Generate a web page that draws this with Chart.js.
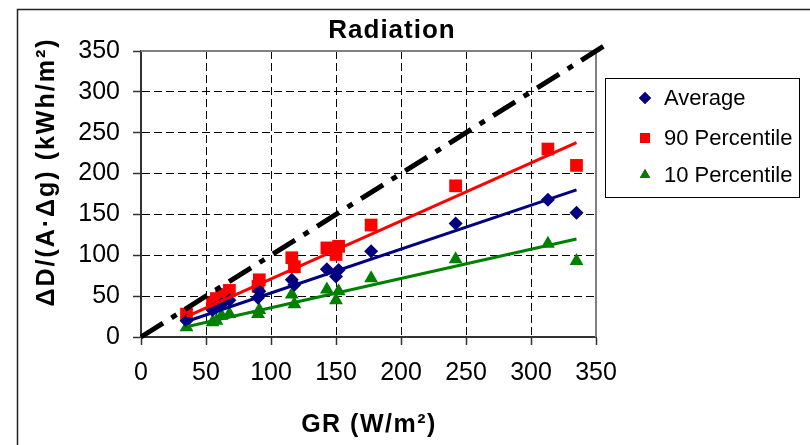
<!DOCTYPE html>
<html>
<head>
<meta charset="utf-8">
<script src="https://cdn.jsdelivr.net/npm/chart.js@4.4.0/dist/chart.umd.min.js"></script>
<style>
  html, body { margin: 0; padding: 0; background: #fff; }
  #wrap { width: 810px; height: 445px; }
</style>
</head>
<body>
<div id="wrap"><canvas id="radiationChart" width="810" height="445"></canvas></div>
<script>
// GR (W/m2) of each measured point
const grValues = [35, 55, 58, 62, 68, 90, 91, 116, 118, 143, 150, 152, 177, 242, 313, 335];
// dD/(A.dg) (kWh/m2)
const averageValues = [20, 33, 36, 40, 45, 48, 56, 70, 64, 83, 74, 82, 105, 139, 168, 152];
const p90Values = [28, 42, 47, 52, 57, 62, 70, 97, 86, 109, 101, 111, 137, 185, 230, 210];
const p10Values = [12, 18, 20, 26, 28, 28, 33, 52, 40, 58, 45, 56, 72, 95, 114, 93];

// trend lines (end points)
const trendX = [35, 335];
const trendAverage = [19, 180];
const trend90 = [25, 238];
const trend10 = [12.5, 120];

// 1:1 line
const oneToOneX = [0, 356];
const oneToOneY = [0, 356];

const tickValues = [0, 50, 100, 150, 200, 250, 300, 350];
const seriesNames = ['Average', '90 Percentile', '10 Percentile'];

const toPoints = (xs, ys) => xs.map((x, i) => ({x: x, y: ys[i]}));
const FONT = "'Liberation Sans', Arial, Helvetica, sans-serif";

// titre, titres des axes, légende et cadres
const decor = {
    id: 'decor',
    beforeDatasetsDraw(chart) {
        const ctx = chart.ctx;
        const a = chart.chartArea;
        ctx.save();
        ctx.strokeStyle = '#808080';
        ctx.lineWidth = 2;
        ctx.beginPath();
        ctx.moveTo(a.left, a.top);
        ctx.lineTo(a.right, a.top);
        ctx.lineTo(a.right, a.bottom);
        ctx.stroke();
        ctx.restore();
    },
    afterDraw(chart) {
        const ctx = chart.ctx;
        ctx.save();
        // outer frame
        ctx.strokeStyle = '#222';
        ctx.lineWidth = 1.5;
        ctx.strokeRect(17.5, 9.5, 900, 500);

        // title
        ctx.fillStyle = '#000';
        ctx.font = 'bold 26px ' + FONT;
        ctx.textAlign = 'center';
        ctx.textBaseline = 'middle';
        ctx.letterSpacing = '1px';
        ctx.fillText('Radiation', 392, 31);

        // x title
        ctx.font = 'bold 25px ' + FONT;
        ctx.letterSpacing = '1.5px';
        ctx.fillText('GR (W/m\u00B2)', 369, 425);

        // y title
        ctx.save();
        ctx.translate(47, 172);
        ctx.rotate(-Math.PI / 2);
        ctx.font = 'bold 25px ' + FONT;
        ctx.letterSpacing = '2px';
        ctx.fillText('\u0394D/(A\u00B7\u0394g) (kWh/m\u00B2)', 0, 0);
        ctx.restore();
        ctx.letterSpacing = '0px';

        // legend
        ctx.strokeStyle = '#000';
        ctx.lineWidth = 1;
        ctx.strokeRect(605.5, 78.5, 194, 119);
        const rows = [98, 138, 175];
        const ds = chart.data.datasets;
        ctx.font = '22px ' + FONT;
        ctx.textAlign = 'left';
        rows.forEach((y, i) => {
            Chart.helpers.drawPoint(ctx, {
                pointStyle: ds[i].pointStyle,
                radius: ds[i].pointStyle === 'rect' ? 7 : 6,
                rotation: 0,
                borderWidth: 0
            }, 645, y);
            ctx.fillStyle = ds[i].backgroundColor;
            ctx.fill();
            ctx.fillStyle = '#000';
            ctx.fillText(seriesNames[i], 664, y + 1);
        });
        ctx.restore();
    }
};

const scaleCommon = {
    type: 'linear',
    min: 0,
    max: 350,
    afterBuildTicks: s => { s.ticks = tickValues.map(v => ({value: v})); },
    grid: {
        color: '#000',
        lineWidth: 1,
        tickLength: 8,
        tickColor: '#333',
        tickWidth: 1.5
    },
    border: { display: true, color: '#333', width: 2, dash: [8, 4] },
    ticks: { color: '#000', font: { family: FONT, size: 25 }, padding: 13 }
};

window.onload = function() {
    new Chart(document.getElementById('radiationChart'), {
        type: 'scatter',
        data: {
            datasets: [
                {
                    label: seriesNames[0],
                    data: toPoints(grValues, averageValues),
                    pointStyle: 'rectRot',
                    pointRadius: 7,
                    backgroundColor: '#000080',
                    borderWidth: 0,
                    order: 2
                },
                {
                    label: seriesNames[1],
                    data: toPoints(grValues, p90Values),
                    pointStyle: 'rect',
                    pointRadius: 9,
                    backgroundColor: '#ff0000',
                    borderWidth: 0,
                    order: 2
                },
                {
                    label: seriesNames[2],
                    data: toPoints(grValues, p10Values),
                    pointStyle: 'triangle',
                    pointRadius: 8,
                    backgroundColor: '#008000',
                    borderWidth: 0,
                    order: 2
                },
                {
                    data: toPoints(trendX, trendAverage),
                    showLine: true, pointRadius: 0,
                    borderColor: '#000080', borderWidth: 3, order: 1
                },
                {
                    data: toPoints(trendX, trend90),
                    showLine: true, pointRadius: 0,
                    borderColor: '#ff0000', borderWidth: 3, order: 1
                },
                {
                    data: toPoints(trendX, trend10),
                    showLine: true, pointRadius: 0,
                    borderColor: '#008000', borderWidth: 3, order: 1
                },
                {
                    data: toPoints(oneToOneX, oneToOneY),
                    showLine: true, pointRadius: 0,
                    borderColor: '#000', borderWidth: 5,
                    borderDash: [26, 10, 6, 10],
                    clip: false, order: 0
                }
            ]
        },
        options: {
            responsive: false,
            animation: false,
            layout: { padding: { left: 0, top: 51, right: 214, bottom: 0 } },
            plugins: {
                legend: { display: false },
                tooltip: { enabled: false }
            },
            scales: {
                x: Object.assign({}, scaleCommon, {
                    position: 'bottom',
                    afterFit: s => { s.height = 108; }
                }),
                y: Object.assign({}, scaleCommon, {
                    position: 'left',
                    afterFit: s => { s.width = 141; }
                })
            }
        },
        plugins: [decor]
    });
};
</script>
</body>
</html>
